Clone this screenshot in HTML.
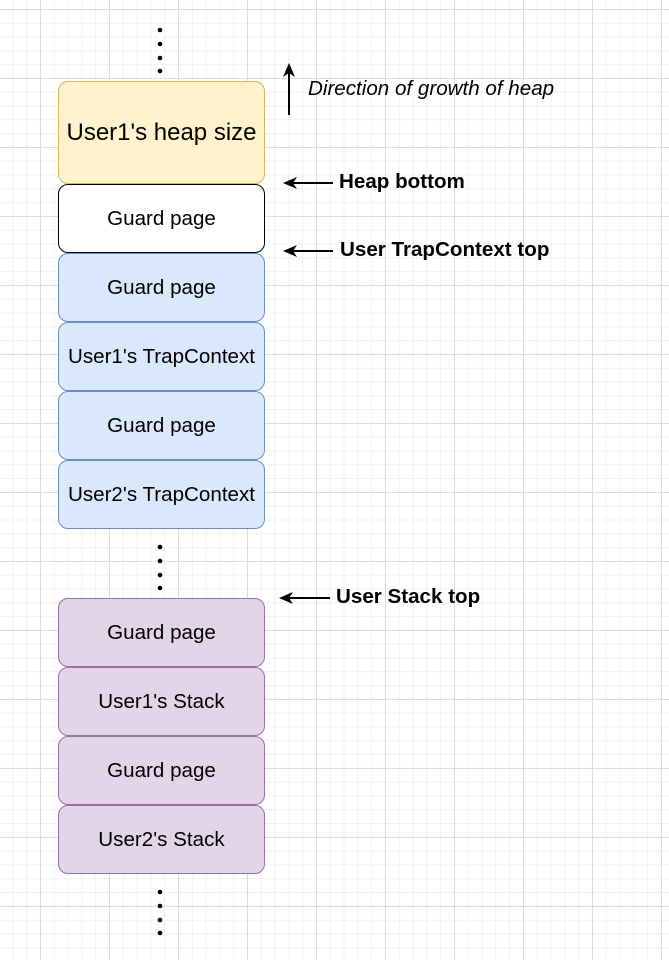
<!DOCTYPE html>
<html><head><style>
body{margin:0;}
.c{position:relative;width:669px;height:960px;overflow:hidden;font-family:"Liberation Sans",sans-serif;
background-color:#fff;
background-image:linear-gradient(#dcdcdc 1px,transparent 1px),linear-gradient(90deg,#dcdcdc 1px,transparent 1px),linear-gradient(#f1f1f1 1px,transparent 1px),linear-gradient(90deg,#f1f1f1 1px,transparent 1px);
background-size:69px 69px,69px 69px,13.8px 13.8px,13.8px 13.8px;
background-position:0 9px,40px 0,0 9px,40px 0;}
.b{position:absolute;left:58px;border:1px solid;border-radius:10px;display:flex;align-items:center;justify-content:center;font-size:20.6px;color:#000;box-sizing:border-box;width:207px;white-space:nowrap;}
.y{background:#fff2cc;border-color:#d6b656;}
.w{background:#fff;border-color:#000;}
.bl{background:#dae8fc;border-color:#6c8ebf;}
.p{background:#e1d5e7;border-color:#9673a6;}
.t{position:absolute;font-size:20.6px;color:#000;white-space:nowrap;}
</style></head><body><div class="c">
<svg width="669" height="960" style="position:absolute;left:0;top:0">
<g fill="#000">
<circle cx="160" cy="30" r="2.3"/><circle cx="160" cy="44" r="2.3"/><circle cx="160" cy="58" r="2.3"/><circle cx="160" cy="71" r="2.3"/>
<circle cx="160" cy="547" r="2.3"/><circle cx="160" cy="561" r="2.3"/><circle cx="160" cy="575" r="2.3"/><circle cx="160" cy="588" r="2.3"/>
<circle cx="160" cy="892" r="2.3"/><circle cx="160" cy="906" r="2.3"/><circle cx="160" cy="920" r="2.3"/><circle cx="160" cy="933" r="2.3"/>
</g>
<g stroke="#000" stroke-width="2" fill="none">
<line x1="289" y1="115" x2="289" y2="68"/>
<line x1="333" y1="183" x2="290" y2="183"/>
<line x1="333" y1="251" x2="290" y2="251"/>
<line x1="330" y1="598" x2="286" y2="598"/>
</g>
<g fill="#000">
<path d="M289 63 L283 77 L289 73 L295 77 Z"/>
<path d="M283 183 L297 177 L293 183 L297 189 Z"/>
<path d="M283 251 L297 245 L293 251 L297 257 Z"/>
<path d="M279 598 L293 592 L289 598 L293 604 Z"/>
</g>
</svg>
<div class="b y" style="top:81px;height:103px;font-size:24px">User1's heap size</div>
<div class="b w" style="top:184px;height:69px">Guard page</div>
<div class="b bl" style="top:253px;height:69px">Guard page</div>
<div class="b bl" style="top:322px;height:69px">User1's TrapContext</div>
<div class="b bl" style="top:391px;height:69px">Guard page</div>
<div class="b bl" style="top:460px;height:69px">User2's TrapContext</div>
<div class="b p" style="top:598px;height:69px">Guard page</div>
<div class="b p" style="top:667px;height:69px">User1's Stack</div>
<div class="b p" style="top:736px;height:69px">Guard page</div>
<div class="b p" style="top:805px;height:69px">User2's Stack</div>
<div class="t" style="left:308px;top:77px;font-style:italic">Direction of growth of heap</div>
<div class="t" style="left:339px;top:170px;font-weight:bold">Heap bottom</div>
<div class="t" style="left:340px;top:238px;font-weight:bold">User TrapContext top</div>
<div class="t" style="left:336px;top:585px;font-weight:bold">User Stack top</div>
</div></body></html>
